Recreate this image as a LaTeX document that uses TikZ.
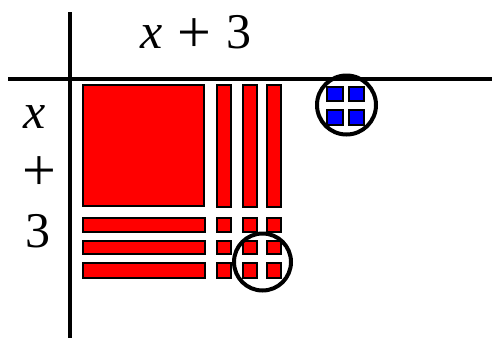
\documentclass[tikz,border=0pt]{standalone}
\usepackage{fontspec}
\setmainfont{Liberation Serif}
\newcommand{\bigplus}{{\fontsize{60}{60}\selectfont +}}
\begin{document}
\begin{tikzpicture}[x=1pt,y=-1pt,
  tile/.style={draw=black, line width=1.2pt, fill=red},
  btile/.style={draw=black, line width=1.2pt, fill=blue},
  axis/.style={line width=4pt},
  ring/.style={draw, line width=4pt, circle, inner sep=0pt},
  lbl/.style={font=\fontsize{50}{50}\selectfont, inner sep=0pt}]
\useasboundingbox (0,0) rectangle (492,338);
% axes
\coordinate (vt) at (70,12);
\coordinate (vb) at (70,338);
\coordinate (hl) at (8,79);
\coordinate (hr) at (492,79);
\draw[axis] (vt) -- (vb);
\draw[axis] (hl) -- (hr);
% labels
\node[lbl, anchor=base] (top) at (196,48) {\textit{x}\hspace{0.3em}\raisebox{-4pt}{\bigplus}\hspace{0.3em}3};
\node[lbl, anchor=base] (lx) at (35,128) {\textit{x}};
\node[lbl, anchor=base] (lp) at (39,190) {\bigplus};
\node[lbl, anchor=base] (l3) at (38,247) {3};
% x^2 tile
\draw[tile] (83,85) rectangle (204,206);
% x tiles
\foreach \a/\b in {217/231, 243/257, 267/281}
  \draw[tile] (\a,85) rectangle (\b,207);
\foreach \a/\b in {218/232, 241/254, 263/278}
  \draw[tile] (83,\a) rectangle (205,\b);
% unit tiles
\foreach \a/\b in {217/231, 243/257, 267/281}
  \foreach \c/\d in {218/232, 241/254, 263/278}
    \draw[tile] (\a,\c) rectangle (\b,\d);
% blue unit tiles
\foreach \a/\b in {327/343, 349/364}
  \foreach \c/\d in {87/101, 110/125}
    \draw[btile] (\a,\c) rectangle (\b,\d);
% circles
\node[ring, minimum size=57pt] (c1) at (262.5,262) {};
\node[ring, minimum size=59pt] (c2) at (346.5,105) {};
\end{tikzpicture}
\end{document}
